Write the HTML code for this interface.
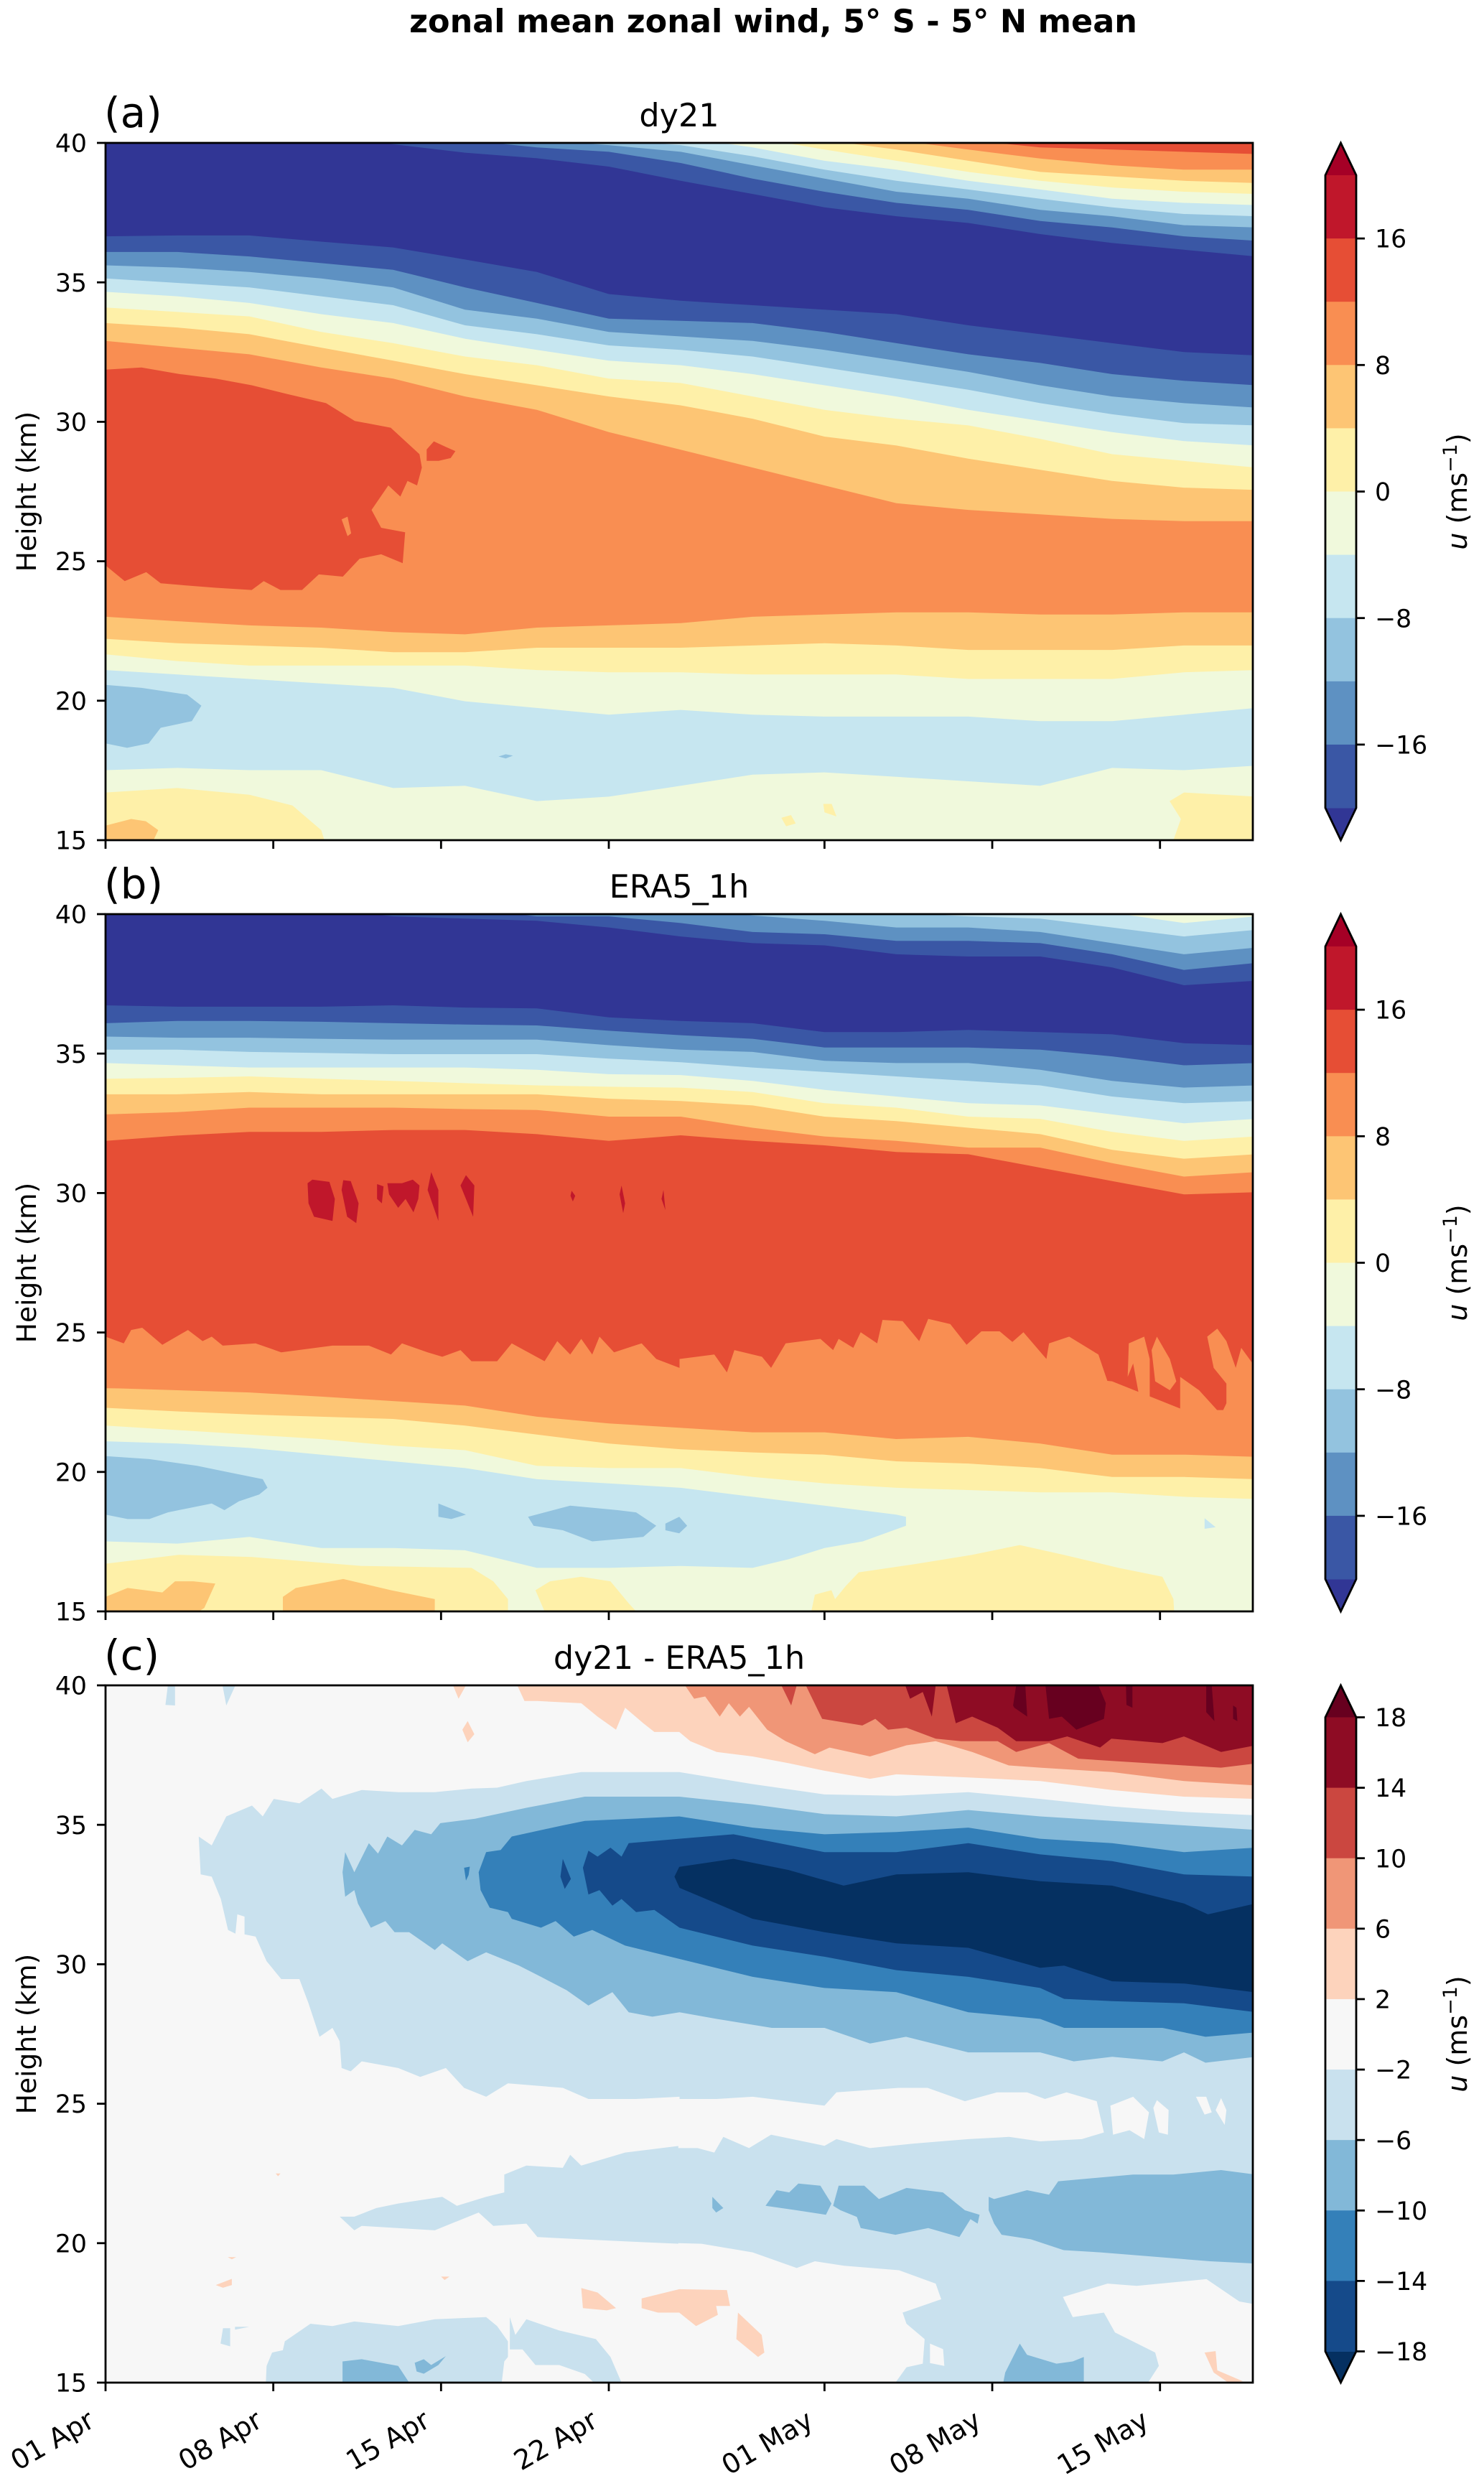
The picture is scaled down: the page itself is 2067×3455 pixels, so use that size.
<!DOCTYPE html>
<html lang="en">
<head>
<meta charset="utf-8">
<title>zonal mean zonal wind, 5° S - 5° N mean</title>
<style>
html,body{margin:0;padding:0;background:#fff;}
svg{display:block;}
text{font-family:"DejaVu Sans","Liberation Sans",sans-serif;fill:#000;}
</style>
</head>
<body>
<svg id="figure" xmlns="http://www.w3.org/2000/svg" width="2067" height="3455" viewBox="0 0 2067 3455">
<defs>
<clipPath id="clip-a"><rect x="147" y="199" width="1598" height="971"/></clipPath>
<clipPath id="clip-b"><rect x="147" y="1273" width="1598" height="971"/></clipPath>
<clipPath id="clip-c"><rect x="147" y="2347" width="1598" height="971"/></clipPath>
</defs>
<text x="1077" y="45" text-anchor="middle" font-size="44.5" font-weight="bold">zonal mean zonal wind, 5° S - 5° N mean</text>
<text x="145" y="177" font-size="58">(a)</text>
<text x="946" y="176" text-anchor="middle" font-size="44.5">dy21</text>
<text x="145" y="1251" font-size="58">(b)</text>
<text x="946" y="1250" text-anchor="middle" font-size="44.5">ERA5_1h</text>
<text x="145" y="2325" font-size="58">(c)</text>
<text x="946" y="2324" text-anchor="middle" font-size="44.5">dy21 - ERA5_1h</text>
<text transform="translate(50 684.5) rotate(-90)" text-anchor="middle" font-size="37.5">Height (km)</text>
<text transform="translate(50 1758.5) rotate(-90)" text-anchor="middle" font-size="37.5">Height (km)</text>
<text transform="translate(50 2832.5) rotate(-90)" text-anchor="middle" font-size="37.5">Height (km)</text>
<text transform="translate(2043 684.5) rotate(-90)" text-anchor="middle" font-size="38"><tspan font-style="italic">u</tspan> (ms<tspan dy="-14" font-size="27">−1</tspan><tspan dy="14">)</tspan></text>
<text transform="translate(2043 1758.5) rotate(-90)" text-anchor="middle" font-size="38"><tspan font-style="italic">u</tspan> (ms<tspan dy="-14" font-size="27">−1</tspan><tspan dy="14">)</tspan></text>
<text transform="translate(2043 2832.5) rotate(-90)" text-anchor="middle" font-size="38"><tspan font-style="italic">u</tspan> (ms<tspan dy="-14" font-size="27">−1</tspan><tspan dy="14">)</tspan></text>
</svg>
<script>
// ---------- axis and colour-scale values ----------
const xTickDays = [0, 7, 14, 21, 30, 37, 44];
const xTickLabels = ["01 Apr", "08 Apr", "15 Apr", "22 Apr", "01 May", "08 May", "15 May"];
const yTicks = [15, 20, 25, 30, 35, 40];
const windLevels = [20, 16, 12, 8, 4, 0, -4, -8, -12, -16, -20];
const windTicks = [16, 8, 0, -8, -16];
const diffLevels = [18, 14, 10, 6, 2, -2, -6, -10, -14, -18];
const diffTicks = [18, 14, 10, 6, 2, -2, -6, -10, -14, -18];
const windColors = ["#a50026", "#c0172b", "#e64e35", "#f98e52", "#fdc574", "#fef0a8", "#f0f9dc", "#c6e6f0", "#93c3df", "#5e91c2", "#3a57a5", "#313695"];
const diffColors = ["#67001f", "#8e0c24", "#cb4740", "#f09677", "#fdd3bc", "#f7f7f7", "#c9e1ee", "#82b8d8", "#3480b9", "#154a8a", "#053061"];

// Sample days for contour edges (days since 01 Apr)
const edgeDays = [0, 3, 6, 9, 12, 15, 18, 21, 24, 27, 30, 33, 36, 39, 42, 45, 48];

// ---------- panel (a) dy21: contour edge heights (km) ----------
const a_above8 = [43,43,43,43,43,43,43,43,43,42,41.5,40.8,40.1,39.84,39.76,39.68,39.6];
const a_above4 = [43,43,43,43,43,43,43,43,42,41.4,40.8,40.1,39.76,39.44,39.2,39.04,39.04];
const a_above0 = [43,43,43,43,43,43,43,42,41.2,40.7,40.1,39.76,39.36,38.96,38.8,38.64,38.56];
const a_aboveM4 = [43,43,43,43,43,43,42,41.4,40.8,40.2,39.76,39.36,38.96,38.64,38.4,38.25,38.17];
const a_aboveM8 = [43,43,43,43,42,42,41.2,40.6,40.2,39.84,39.36,39.04,38.64,38.33,38,37.85,37.77];
const a_aboveM12 = [43,43,43,43,42,41,40.5,40.1,39.92,39.52,39.04,38.64,38.33,38,37.69,37.45,37.37];
const a_aboveM16 = [43,43,43,42,41,40.5,40.1,39.92,39.68,39.2,38.72,38.25,38,37.6,37.37,37.05,36.97];
const a_aboveM20 = [42,42,42,41,40.4,40.1,39.84,39.68,39.28,38.72,38.25,37.85,37.6,37.2,36.97,36.65,36.49];
const a_jetTop = [41,41,40.6,40.3,39.95,39.65,39.45,39.15,38.64,38.17,37.69,37.37,37.13,36.73,36.41,36.17,35.93];
const a_jetBase = [36.65,36.68,36.68,36.46,36.25,35.82,35.37,34.58,34.34,34.18,34.02,33.86,33.46,33.14,32.82,32.5,32.38];
const a_belowM16 = [36.09,36.09,35.93,35.69,35.45,34.82,34.26,33.7,33.62,33.54,33.22,32.82,32.42,32.11,31.71,31.47,31.31];
const a_belowM12 = [35.61,35.53,35.37,35.14,34.82,34.02,33.7,33.22,33.06,32.9,32.58,32.19,31.79,31.31,30.91,30.67,30.51];
const a_belowM8 = [35.14,34.98,34.82,34.5,34.18,33.46,33.14,32.74,32.58,32.34,31.95,31.55,31.15,30.67,30.27,29.95,29.87];
const a_belowM4 = [34.66,34.5,34.26,33.86,33.54,32.98,32.58,32.19,32.03,31.71,31.31,30.91,30.43,30.03,29.63,29.31,29.15];
const a_below0 = [34.1,33.94,33.78,33.22,32.82,32.34,32.03,31.55,31.39,30.91,30.43,30.11,29.87,29.39,28.84,28.6,28.36];
const a_below4 = [33.54,33.38,33.14,32.66,32.19,31.71,31.31,30.91,30.59,30.11,29.47,29.15,28.68,28.28,27.88,27.64,27.56];
const a_below8 = [32.9,32.66,32.42,31.95,31.55,30.91,30.43,29.63,29,28.36,27.72,27.08,26.84,26.68,26.52,26.44,26.44];
const a_lower4 = [23.01,22.85,22.7,22.62,22.46,22.38,22.62,22.7,22.78,23.01,23.09,23.17,23.17,23.09,23.09,23.17,23.17];
const a_lower0 = [22.22,22.06,21.98,21.9,21.74,21.74,21.9,21.9,21.9,21.98,22.06,21.98,21.82,21.82,21.82,21.98,21.98];
const a_lowerM4 = [21.66,21.42,21.26,21.26,21.26,21.26,21.1,21.02,21.02,20.94,20.94,20.94,20.78,20.78,20.78,21.02,21.1];
const a_lowerM8 = [21.1,20.94,20.78,20.62,20.46,19.98,19.74,19.5,19.67,19.5,19.43,19.43,19.43,19.27,19.27,19.5,19.74];
const a_tropM4 = [17.51,17.59,17.51,17.51,16.87,16.95,16.4,16.56,16.95,17.35,17.43,17.27,17.11,16.95,17.59,17.51,17.67];
const a_edges = [[8,a_above8],[4,a_above4],[0,a_above0],[-4,a_aboveM4],[-8,a_aboveM8],[-12,a_aboveM12],[-16,a_aboveM16],[-20,a_aboveM20],[-24,a_jetTop],[-20,a_jetBase],[-16,a_belowM16],[-12,a_belowM12],[-8,a_belowM8],[-4,a_belowM4],[0,a_below0],[4,a_below4],[8,a_below8],[4,a_lower4],[0,a_lower0],[-4,a_lowerM4],[-8,a_lowerM8],[-4,a_tropM4]];

// panel (a) closed contour regions as [day, km]
const a_westerlyCore = [[0,31.87],[1.5,31.95],[3.1,31.71],[4.6,31.55],[6.1,31.31],[7.6,30.99],[9.2,30.67],[10.4,30.03],[11.9,29.79],[13.1,28.84],[13.2,28.36],[13,27.72],[12.6,27.88],[12.3,27.32],[11.8,27.72],[11.1,26.84],[11.5,26.2],[12.5,26.04],[12.4,24.93],[11.5,25.25],[10.6,25.09],[9.9,24.45],[8.9,24.53],[8.2,23.97],[7.3,23.97],[6.6,24.29],[6.1,23.97],[4.6,24.05],[3.4,24.13],[2.3,24.21],[1.7,24.61],[0.8,24.29],[0,24.85]];
const a_coreIsle = [[13.4,29.01],[13.7,29.3],[14.2,29.1],[14.6,28.95],[14.4,28.7],[13.9,28.6],[13.4,28.6]];
const a_coreHole = [[9.85,26.5],[10.1,26.6],[10.25,26],[10.1,25.9]];
const a_easterlyPatch = [[0,20.57],[1.5,20.46],[3.4,20.22],[4,19.82],[3.6,19.27],[2.3,19.03],[1.8,18.47],[0.9,18.31],[0,18.47]];
const a_easterlySpeck = [[16.4,18],[16.7,18.08],[17,18.03],[16.7,17.93]];
const a_lowYellowWest = [[0,16.71],[3,16.87],[6,16.63],[7.8,16.24],[9,15.36],[9.13,15],[0,15]];
const a_lowOrangeWest = [[0,15.52],[1.07,15.76],[1.68,15.68],[2.2,15.36],[2,15],[0,15]];
const a_lowYellowEast = [[44.4,16.4],[45,16.71],[48,16.56],[48,15],[44.56,15],[44.87,15.76]];
const a_yellowSpeck1 = [[28.2,15.8],[28.6,15.9],[28.8,15.6],[28.4,15.5]];
const a_yellowSpeck2 = [[29.95,16.3],[30.3,16.3],[30.5,15.85],[30,16]];
const a_regions = [[12,a_westerlyCore],[12,a_coreIsle],[8,a_coreHole],[-12,a_easterlyPatch],[-12,a_easterlySpeck],[0,a_lowYellowWest],[4,a_lowOrangeWest],[0,a_lowYellowEast],[0,a_yellowSpeck1],[0,a_yellowSpeck2]];

// ---------- panel (b) ERA5_1h: contour edge heights (km) ----------
const b_aboveM8 = [43,43,43,43,43,43,43,43,43,43,43,41.5,40.8,40.15,40.05,39.68,39.92];
const b_aboveM12 = [43,43,43,43,43,43,43,42,41.3,40.8,40.3,40.05,39.92,39.84,39.52,39.2,39.44];
const b_aboveM16 = [43,43,43,43,43,43,42,40.6,40.2,39.95,39.76,39.52,39.52,39.36,38.96,38.56,38.8];
const b_aboveM20 = [43,43,43,42,40.6,40.2,39.92,39.92,39.68,39.36,39.28,39.04,39.04,38.96,38.56,38,38.25];
const b_jetTop = [40.6,40.5,40.4,40.2,39.92,39.84,39.76,39.52,39.2,38.96,38.88,38.56,38.48,38.48,38.09,37.45,37.61];
const b_jetBase = [36.73,36.68,36.68,36.68,36.73,36.65,36.62,36.3,36.17,36.09,35.77,35.77,35.85,35.77,35.69,35.37,35.3];
const b_belowM16 = [36.09,36.17,36.17,36.14,36.09,36.04,36.01,35.82,35.66,35.53,35.22,35.22,35.22,35.14,34.9,34.58,34.66];
const b_belowM12 = [35.61,35.57,35.57,35.53,35.5,35.5,35.5,35.3,35.14,35.06,34.74,34.66,34.66,34.42,34.02,33.78,33.86];
const b_belowM8 = [35.14,35.14,35.06,35.02,34.98,34.98,34.98,34.82,34.69,34.5,34.34,34.18,34.02,33.86,33.46,33.22,33.3];
const b_belowM4 = [34.66,34.58,34.5,34.5,34.5,34.5,34.42,34.26,34.23,34.02,33.7,33.46,33.22,33.14,32.82,32.5,32.66];
const b_below0 = [34.1,34.13,34.18,34.1,34.02,33.94,33.86,33.81,33.78,33.62,33.22,33.06,32.74,32.66,32.19,31.87,32.03];
const b_below4 = [33.54,33.54,33.62,33.54,33.54,33.54,33.54,33.38,33.3,33.14,32.74,32.58,32.34,32.11,31.55,31.23,31.39];
const b_below8 = [32.82,32.9,33.06,33.06,33.06,33.01,32.98,32.74,32.74,32.34,32.03,31.87,31.63,31.63,31.07,30.59,30.75];
const b_below12 = [31.87,32.06,32.19,32.19,32.26,32.26,32.11,31.87,32.07,31.87,31.71,31.47,31.39,30.91,30.43,29.95,30.03];
const b_lower8 = [23.5,23.5,23.5,23.5,23.5,23.5,23.5,23.5,23.5,23.5,23.5,23.5,23.5,23.5,23.25,22.22,22.22];
const b_lower4 = [23.01,22.93,22.85,22.7,22.54,22.38,21.98,21.74,21.58,21.42,21.42,21.18,21.26,21.02,20.62,20.62,20.54];
const b_lower0 = [22.3,22.17,22.06,21.98,21.9,21.66,21.34,21.02,20.81,20.7,20.62,20.38,20.3,20.14,19.82,19.82,19.74];
const b_lowerM4 = [21.66,21.5,21.34,21.18,20.94,20.78,20.22,20.14,20.14,19.82,19.59,19.43,19.35,19.27,19.27,19.11,19.03];
const b_edges = [[-8,b_aboveM8],[-12,b_aboveM12],[-16,b_aboveM16],[-20,b_aboveM20],[-24,b_jetTop],[-20,b_jetBase],[-16,b_belowM16],[-12,b_belowM12],[-8,b_belowM8],[-4,b_belowM4],[0,b_below0],[4,b_below4],[8,b_below8],[12,b_below12],[8,b_lower8],[4,b_lower4],[0,b_lower0],[-4,b_lowerM4]];

// panel (b) closed contour regions as [day, km]
const b_spikesWest = [[0,24.85],[0.76,24.61],[1.07,25.09],[1.53,25.17],[2.37,24.56],[3.44,25.09],[4.05,24.69],[4.43,24.85],[4.89,24.53],[6.26,24.61],[7.33,24.29],[9.47,24.53],[10.99,24.53],[11.91,24.21],[12.37,24.61],[13.44,24.29],[14.05,24.13],[14.81,24.37],[15.27,23.97],[16.34,23.97],[16.95,24.61],[18.32,23.97],[18.85,24.69],[19.39,24.21],[19.85,24.77],[20.31,24.21],[20.61,24.85],[21.22,24.29],[22.37,24.61],[22.98,24.05],[23.95,23.73],[23.95,23],[0,23]];
const b_spikesEast = [[23.95,24.05],[25.4,24.21],[25.93,23.57],[26.24,24.37],[27.39,24.13],[27.77,23.73],[28.38,24.61],[29.83,24.77],[30.36,24.37],[30.59,24.77],[31.2,24.45],[31.51,25.01],[32.2,24.61],[32.42,25.45],[33.26,25.41],[33.95,24.69],[34.33,25.49],[35.25,25.3],[35.93,24.56],[36.55,25.04],[37.31,25.04],[37.84,24.66],[38.3,25.01],[39.26,24.05],[39.37,24.61],[40.21,24.85],[41.43,24.21],[41.81,23.25],[42.73,22.3],[42.73,22],[23.95,23]];
const b_finger1 = [[42.65,23.41],[42.7,24.61],[43.34,24.85],[43.57,24.05],[43.57,22.46],[43.22,22.3],[42.88,23.89]];
const b_finger2 = [[43.65,24.37],[43.87,24.85],[44.41,24.05],[44.68,23.25],[44.41,22.93],[43.8,23.25]];
const b_finger3 = [[44.84,23.41],[45.63,22.93],[46.55,22.06],[46.77,22.46],[46.77,23.17],[46.24,23.73],[45.97,24.85],[46.39,25.14],[46.77,24.69],[47.16,23.73],[47.39,24.45],[48,23.73],[48,21.98],[44.84,21.98]];
const b_core1 = [[8.43,30.35],[8.63,30.48],[9.34,30.4],[9.57,29.79],[9.47,29],[8.7,29.15],[8.47,29.63]];
const b_core2 = [[9.92,30.46],[10.23,30.43],[10.56,29.63],[10.46,28.92],[10.08,29.15],[9.85,30.11]];
const b_core3 = [[11.33,30.32],[11.6,30.24],[11.53,29.63],[11.33,29.79]];
const b_core4 = [[11.76,30.35],[12.37,30.35],[12.82,30.48],[13.1,30.27],[13.05,29.79],[12.85,29.31],[12.52,29.79],[12.21,29.47],[11.83,29.95]];
const b_core5 = [[13.59,30.75],[13.89,30.11],[13.89,29],[13.44,30.11]];
const b_core6 = [[15.04,30.64],[15.39,30.27],[15.34,29.15],[14.81,30.27]];
const b_core7 = [[19.45,30.08],[19.6,29.9],[19.5,29.7],[19.4,29.9]];
const b_core8 = [[21.53,30.27],[21.68,29.63],[21.6,29.28],[21.45,29.95]];
const b_core9 = [[23.28,30.11],[23.36,29.39],[23.2,29.79]];
const b_eastBand = [[0,21.1],[3,21.02],[6,20.86],[9,20.62],[12,20.38],[15,20.14],[18,19.74],[21,19.59],[24,19.43],[27,19.11],[30,18.79],[33,18.47],[33.4,18.39],[33.4,18.07],[31.6,17.51],[30,17.27],[28.5,16.87],[27,16.56],[24,16.63],[21,16.56],[18,16.56],[15,17.19],[12,17.27],[9,17.27],[6,17.67],[3,17.43],[0,17.51]];
const b_eastPatch1 = [[0,20.57],[1.83,20.46],[3.82,20.22],[5.19,19.98],[6.56,19.74],[6.76,19.43],[6.41,19.19],[5.57,18.95],[4.96,18.63],[4.43,18.87],[2.6,18.55],[1.83,18.31],[0.92,18.31],[0,18.47]];
const b_eastPatch2 = [[17.63,18.39],[19.39,18.79],[21.37,18.63],[22.14,18.55],[22.98,18.07],[22.44,17.67],[20.31,17.51],[19.08,17.91],[17.86,18.07]];
const b_eastPatch3 = [[13.89,18.87],[14.35,18.71],[15.04,18.47],[14.43,18.31],[13.89,18.39]];
const b_eastPatch4 = [[23.36,18.15],[23.94,18.39],[24.27,18.07],[23.94,17.8],[23.36,17.91]];
const b_eastSpeck = [[45.86,18.34],[46.32,18.02],[45.86,17.96]];
const b_yellow1 = [[0,16.71],[3.05,17.03],[6.11,16.95],[10.69,16.63],[15.27,16.56],[16.18,16.08],[16.79,15.44],[16.79,15],[0,15]];
const b_yellow2 = [[17.94,15.76],[18.55,16.08],[19.85,16.24],[21.07,16.08],[21.83,15.29],[22.14,15],[18.32,15]];
const b_yellow3 = [[29.45,15],[29.6,15.6],[30.29,15.76],[30.44,15.44],[30.9,15.92],[31.43,16.4],[33.87,16.71],[36.16,17.03],[38.15,17.38],[39.98,17.03],[42.27,16.56],[44.1,16.24],[44.56,15.44],[44.59,15]];
const b_orange1 = [[0,15.52],[0.92,15.84],[2.37,15.68],[2.9,16.08],[3.66,16.08],[4.58,16],[4.12,15.12],[3.89,15],[0,15]];
const b_orange2 = [[7.4,15],[7.4,15.52],[7.94,15.84],[9.92,16.16],[11.91,15.76],[13.74,15.44],[13.74,15]];
const b_regions = [[8,b_spikesWest],[8,b_spikesEast],[8,b_finger1],[8,b_finger2],[8,b_finger3],[16,b_core1],[16,b_core2],[16,b_core3],[16,b_core4],[16,b_core5],[16,b_core6],[16,b_core7],[16,b_core8],[16,b_core9],[-8,b_eastBand],[-12,b_eastPatch1],[-12,b_eastPatch2],[-12,b_eastPatch3],[-12,b_eastPatch4],[-8,b_eastSpeck],[0,b_yellow1],[0,b_yellow2],[0,b_yellow3],[4,b_orange1],[4,b_orange2]];

// ---------- panel (c) dy21 - ERA5_1h: closed contour regions as [day, km] ----------
const c_minus2Main = [[3.89,34.58],[4.43,34.26],[5.04,35.3],[6.11,35.69],[6.56,35.3],[7.02,35.93],[8.09,35.77],[9.01,36.3],[9.47,35.93],[10.69,36.25],[12.21,36.17],[13.74,36.17],[15.27,36.3],[16.34,36.33],[17.56,36.57],[19.85,36.89],[23.94,36.89],[27,36.46],[30,36.09],[33,36.04],[36,36.17],[39,35.93],[42,35.66],[45,35.46],[48,35.34],[48,15],[23.95,15],[23.95,25.25],[22.14,25.17],[20.15,25.17],[19.08,25.57],[16.79,25.73],[15.88,25.25],[14.96,25.57],[14.2,26.28],[13.13,25.96],[12.21,26.28],[10.69,26.52],[10.23,26.16],[9.85,26.28],[9.77,27.24],[9.47,27.72],[8.93,27.4],[8.47,28.6],[8.09,29.47],[7.33,29.47],[6.72,30.11],[6.26,30.99],[5.8,31.07],[5.8,31.71],[5.5,31.79],[5.42,31.1],[5.11,31.23],[4.81,32.34],[4.43,33.14],[3.97,33.22]];
const c_lowBand = [[9.77,20.95],[10.38,20.95],[11.3,21.26],[12.21,21.42],[14.05,21.66],[14.66,21.34],[15.88,21.66],[16.64,21.82],[16.64,22.46],[17.56,22.78],[19.08,22.7],[19.39,23.17],[19.85,22.78],[21.68,23.25],[23.95,23.49],[23.95,19.98],[21.83,20.06],[19.85,20.14],[18.02,20.22],[17.56,20.7],[16.18,20.62],[15.57,21.1],[13.74,20.46],[10.69,20.62],[10.38,20.46]];
const c_bottomWest = [[6.69,15],[6.72,15.6],[6.95,16.08],[7.4,16.16],[7.48,16.48],[8.55,17.11],[9.47,17.03],[10.38,17.19],[12.21,17.03],[13.74,17.27],[15.88,17.35],[16.34,17.03],[16.79,16.48],[16.79,15.92],[16.64,15.76],[16.53,15]];
const c_bottomEast = [[16.87,16.19],[16.87,17.35],[17.1,16.71],[17.56,17.27],[18.93,16.87],[20.46,16.56],[21.07,15.92],[21.53,15],[20.38,15],[20,15.31],[18.93,15.63],[17.94,15.63],[17.4,16.19]];
const c_bottomCore1 = [[9.89,15.76],[10.69,15.84],[12.21,15.6],[12.67,15],[9.89,15]];
const c_bottomCore2 = [[12.9,15.71],[13.28,15.84],[13.59,15.63],[14.2,15.95],[13.89,15.63],[13.28,15.32],[12.98,15.4]];
const c_whiteBand = [[23.9,25.17],[25.5,25.17],[27,25.25],[30,24.93],[30.5,25.41],[33.1,25.57],[34.3,25.57],[35.86,25.09],[37.2,25.41],[38.45,25.41],[39.2,25.17],[40.1,25.41],[41.36,25.09],[41.66,23.97],[40.74,23.73],[39,23.65],[37.7,23.81],[36,23.73],[33.72,23.57],[31.9,23.41],[30.5,23.73],[30,23.49],[27.77,23.89],[26.85,23.41],[25.78,23.81],[25.4,23.25],[24.7,23.41],[23.9,23.41]];
const c_whiteHole1 = [[41.93,24.93],[42.88,25.25],[43.54,24.69],[43.34,23.73],[42.73,24.05],[42.04,23.89]];
const c_whiteHole2 = [[43.72,24.85],[43.87,25.13],[44.36,24.77],[44.33,23.89],[43.95,23.97]];
const c_whiteHole3 = [[45.5,25.25],[45.93,25.25],[46.16,24.69],[45.86,24.61]];
const c_whiteHole4 = [[46.32,24.77],[46.55,25.2],[46.77,24.77],[46.7,24.24]];
const c_whiteLowWest = [[23.9,20],[24.87,19.98],[27,19.67],[28.84,19.11],[29.6,19.35],[30.82,19.19],[33.11,19.03],[34.64,18.55],[34.87,17.99],[33.26,17.51],[33.42,17.11],[34.18,16.56],[34.1,15.68],[33.42,15.55],[32.96,15],[23.9,15]];
const c_whiteLowPatch = [[34.4,16.4],[34.95,16.2],[35,15.6],[34.4,15.7]];
const c_whiteLowEast = [[39.95,18.07],[41.81,18.55],[43.03,18.47],[45.94,18.71],[47.31,17.91],[48,17.8],[48,15],[43.5,15],[43.95,15.6],[43.8,16.08],[42.12,16.8],[41.66,17.51],[40.36,17.35]];
const c_minus6Main = [[10,34.02],[10.38,33.3],[10.99,34.34],[11.37,33.97],[11.76,34.58],[12.37,34.26],[12.9,34.82],[13.59,34.66],[13.97,35.06],[15.42,35.22],[17.56,35.61],[20,36.01],[23.94,36.01],[27,35.73],[30,35.38],[33,35.3],[36,35.53],[39,35.3],[42,35.14],[45,34.98],[48,34.82],[48,26.68],[45.9,26.47],[45,26.84],[44.1,26.52],[42,26.68],[40.4,26.52],[39,26.84],[36,26.84],[33.4,27.4],[31.9,27.16],[30,27.72],[27.8,27.72],[25.5,28.04],[23.95,28.28],[22.82,28.12],[21.83,28.28],[21.15,29],[20.15,28.52],[19.24,29.07],[18.17,29.55],[17.25,29.95],[15.88,30.43],[15.11,30.11],[14.05,30.75],[13.74,30.51],[12.67,31.15],[12.06,31.15],[11.68,31.55],[11.07,31.31],[10.53,32.18],[10.38,32.66],[10,32.42],[9.89,33.3]];
const c_minus6Low1 = [[27.54,21.34],[28,21.9],[28.53,21.82],[28.91,22.14],[29.83,22.06],[30.29,21.42],[30.06,21.02],[28.84,21.18]];
const c_minus6Low2 = [[30.36,21.34],[30.59,22.06],[31.66,22.06],[32.27,21.58],[33.42,21.98],[34.94,21.82],[35.86,21.18],[36.47,21.02],[36.39,20.7],[36.09,20.86],[35.63,20.22],[34.33,20.54],[32.96,20.3],[31.51,20.54],[31.35,20.94],[30.67,21.18]];
const c_minus6Low3 = [[36.85,21.66],[37.08,21.58],[38.45,21.9],[39.37,21.74],[39.75,22.22],[42.88,22.46],[44.56,22.46],[46.55,22.62],[48,22.46],[48,19.27],[46.09,19.35],[43.8,19.51],[41.51,19.67],[39.98,19.75],[38.61,20.14],[37.39,20.3],[37.08,20.7],[36.85,21.18]];
const c_minus6Low4 = [[25.32,21.66],[25.78,21.26],[25.48,21.1],[25.32,21.26]];
const c_minus6Bottom = [[37.46,15],[37.54,15.36],[38.15,16.4],[38.45,16],[39.68,15.68],[40.36,15.76],[40.82,15.92],[40.82,15]];
const c_minus10Main = [[15.57,33.3],[15.88,34.02],[16.49,34.1],[16.95,34.58],[19.08,34.98],[20,35.14],[23.94,35.3],[27,34.9],[30,34.66],[33,34.74],[36,34.9],[39,34.5],[42,34.34],[45,34.02],[48,34.18],[48,27.56],[45.9,27.4],[44.1,27.72],[42,27.72],[40,27.72],[39,28.04],[36,28.28],[33,29],[30,29.15],[27,29.55],[23.95,30.19],[22.82,30.43],[21.68,30.67],[20.31,31.23],[19.54,30.99],[18.78,31.55],[18.17,31.31],[16.95,31.63],[16.79,31.87],[16.03,32.03],[15.65,32.66]];
const c_minus10Speck = [[14.96,33.46],[15.2,33.5],[15.15,33.2],[15.04,33]];
const c_minus14Main = [[19.92,33.46],[20.15,34.07],[20.53,33.86],[21.07,34.18],[21.53,33.86],[21.83,34.34],[23.94,34.5],[26.2,34.66],[30,34.02],[33,34.02],[36,34.34],[39,33.94],[42,33.7],[45,33.22],[48,33.14],[48,28.28],[45,28.6],[42,28.68],[40,28.76],[39,29.15],[36,29.55],[33,29.79],[30,30.27],[27,30.67],[23.95,31.31],[22.9,31.95],[22.14,31.87],[21.53,32.34],[21.15,32.1],[20.61,32.66],[20.15,32.5]];
const c_minus14Isle = [[19.08,33.78],[19.42,33.06],[19.16,32.7],[18.98,33.14]];
const c_minus18Main = [[23.74,33.14],[23.94,33.49],[26.2,33.78],[28.5,33.38],[30.8,32.82],[33,33.22],[36,33.3],[39,32.98],[42,32.82],[45,32.18],[46,31.79],[48,32.18],[48,28.99],[45,29.31],[42,29.39],[40,29.95],[39,29.87],[36,30.59],[33,30.75],[30,31.15],[27,31.63],[25.5,32.18],[23.95,32.74]];
const c_plus2Top = [[17.18,40],[17.48,39.44],[18.02,39.44],[19.85,39.36],[20.53,38.88],[21.3,38.41],[21.68,39.2],[22.44,38.64],[22.9,38.33],[23.94,38.33],[24.4,38],[25.5,37.61],[27,37.45],[28.5,37.21],[30,36.94],[31.9,36.65],[33,36.81],[36,36.7],[39,36.57],[42,36.25],[45,36.01],[48,35.93],[48,40]];
const c_plus2Sliver = [[14.5,40],[15.04,40],[14.73,39.52]];
const c_plus2Isle = [[15.11,38.72],[15.39,38.25],[15.11,37.96],[14.89,38.41]];
const c_plus6Top = [[24.18,40],[24.56,39.52],[25.02,39.6],[25.63,38.88],[26.01,39.36],[26.47,38.88],[26.85,39.23],[27.61,38.41],[28.38,38],[29.6,37.53],[30.21,37.77],[31.9,37.45],[33.42,37.85],[34.64,38],[36.16,37.61],[37.69,37.13],[39,37.05],[42,36.89],[45,36.57],[48,36.41],[48,40]];
const c_plus10Top = [[28.2,40],[28.61,39.28],[28.84,40],[29.22,40],[29.9,38.8],[31.58,38.56],[32.12,38.8],[32.65,38.41],[33.42,38.48],[34.64,38.09],[35.7,38],[37.23,38],[38,37.61],[39.37,37.93],[40.59,37.37],[42,37.29],[45,37.13],[46.55,37.05],[48,37.2],[48,40]];
const c_plus14Top = [[33.37,40],[33.57,39.52],[34.1,39.76],[34.48,38.88],[34.64,40],[35.1,40],[35.48,38.64],[36.16,38.88],[37.23,38.48],[38,38],[39.37,38],[40.13,38.17],[41.5,37.77],[41.97,38.09],[44.1,37.93],[45,38.17],[46.55,37.61],[48,37.85],[48,40]];
const c_plus18Core1 = [[39.22,40],[39.37,38.8],[39.9,38.88],[40.51,38.41],[41.66,38.8],[41.74,39.36],[41.43,40]];
const c_plus18Core2 = [[37.87,39.28],[38,40],[38.38,40],[38.46,38.88],[37.92,39.2]];
const c_plus18Core3 = [[42.58,40],[42.85,40],[42.85,39.2],[42.6,39.3]];
const c_plus18Core4 = [[45.93,40],[46.16,40],[46.27,38.72],[45.93,39.04]];
const c_plus18Core5 = [[47.05,39.28],[47.19,39.2],[47.23,38.72],[47.05,38.8]];
const c_plus2Low1 = [[19.85,18.39],[20.53,18.23],[21.3,17.67],[20.92,17.59],[19.92,17.67]];
const c_plus2Low2 = [[22.37,18.02],[23.94,18.35],[25.93,18.32],[26.06,17.75],[25.48,17.75],[25.55,17.43],[24.64,17.03],[23.94,17.51],[23.05,17.51],[22.37,17.67]];
const c_plus2Low3 = [[26.39,17.51],[27.38,16.71],[27.49,16.08],[27.23,15.92],[26.32,16.56]];
const c_plus2Low4 = [[45.86,16.08],[46.32,16.13],[46.39,15.44],[47.46,15.05],[46.85,15],[46.24,15.36]];
const c_plus2Speck1 = [[4.6,18.5],[5.27,18.72],[5.27,18.5],[4.9,18.4]];
const c_plus2Speck2 = [[5.1,19.5],[5.45,19.5],[5.27,19.42]];
const c_plus2Speck3 = [[14,18.8],[14.35,18.8],[14.15,18.68]];
const c_plus2Speck4 = [[7.1,22.5],[7.3,22.5],[7.2,22.4]];
const c_minus2Top1 = [[2.6,40],[2.9,40],[2.9,39.28],[2.5,39.3]];
const c_minus2Top2 = [[4.88,40],[5.42,40],[5.04,39.28]];
const c_minus2Low1 = [[4.9,16.95],[5.2,16.95],[5.2,16.3],[4.8,16.4]];
const c_minus2Low2 = [[5.4,17],[6,17],[5.4,16.9]];
const c_regions = [[-6,c_minus2Main],[-6,c_lowBand],[-6,c_bottomWest],[-6,c_bottomEast],[-10,c_bottomCore1],[-10,c_bottomCore2],[-2,c_whiteBand],[-2,c_whiteHole1],[-2,c_whiteHole2],[-2,c_whiteHole3],[-2,c_whiteHole4],[-2,c_whiteLowWest],[-2,c_whiteLowPatch],[-2,c_whiteLowEast],[-10,c_minus6Main],[-10,c_minus6Low1],[-10,c_minus6Low2],[-10,c_minus6Low3],[-10,c_minus6Low4],[-10,c_minus6Bottom],[-14,c_minus10Main],[-14,c_minus10Speck],[-18,c_minus14Main],[-18,c_minus14Isle],[-22,c_minus18Main],[2,c_plus2Top],[2,c_plus2Sliver],[2,c_plus2Isle],[6,c_plus6Top],[10,c_plus10Top],[14,c_plus14Top],[18,c_plus18Core1],[18,c_plus18Core2],[18,c_plus18Core3],[18,c_plus18Core4],[18,c_plus18Core5],[2,c_plus2Low1],[2,c_plus2Low2],[2,c_plus2Low3],[2,c_plus2Low4],[2,c_plus2Speck1],[2,c_plus2Speck2],[2,c_plus2Speck3],[2,c_plus2Speck4],[-6,c_minus2Top1],[-6,c_minus2Top2],[-6,c_minus2Low1],[-6,c_minus2Low2]];

// ---------- drawing ----------
const NS = "http://www.w3.org/2000/svg";
const fig = document.getElementById("figure");
const X0 = 147, PX_PER_DAY = 33.38, PX_PER_KM = 38.84, X1 = 1745;
function xOf(day) { return X0 + day * PX_PER_DAY; }
function yOf(km, top) { return top + (40 - km) * PX_PER_KM; }
function make(tag) { return document.createElementNS(NS, tag); }
function fmt(v) { return v < 0 ? "\u2212" + Math.abs(v) : String(v); }
function bandColor(lowerBound, levels, colors) {
  for (let i = 0; i < levels.length; i++) { if (lowerBound >= levels[i]) return colors[i]; }
  return colors[colors.length - 1];
}

function drawPanel(key, top, background, edges, regions, levels, colors, cbTop, cbBottom, cbTicks, tickLabelsShown) {
  const bottom = top + 971;
  const group = make("g");
  
  
  fig.appendChild(group);

  const plot = make("g");
  plot.setAttribute("clip-path", "url(#clip-" + key + ")");
  
  
  group.appendChild(plot);

  const bg = make("rect");
  bg.setAttribute("x", X0);
  bg.setAttribute("y", top);
  bg.setAttribute("width", X1 - X0);
  bg.setAttribute("height", 971);
  bg.setAttribute("fill", background);
  
  
  plot.appendChild(bg);

  edges.forEach(function (edge) {
    const pts = edge[1].map(function (km, i) { return xOf(edgeDays[i]).toFixed(1) + "," + yOf(km, top).toFixed(1); });
    pts.push(xOf(48).toFixed(1) + "," + yOf(14, top).toFixed(1));
    pts.push(xOf(0).toFixed(1) + "," + yOf(14, top).toFixed(1));
    const poly = make("polygon");
    poly.setAttribute("points", pts.join(" "));
    poly.setAttribute("fill", bandColor(edge[0], levels, colors));
    
    
    plot.appendChild(poly);
  });

  regions.forEach(function (region) {
    const pts = region[1].map(function (p) { return xOf(p[0]).toFixed(1) + "," + yOf(p[1], top).toFixed(1); });
    const poly = make("polygon");
    poly.setAttribute("points", pts.join(" "));
    poly.setAttribute("fill", bandColor(region[0], levels, colors));
    
    
    plot.appendChild(poly);
  });

  const frame = make("rect");
  frame.setAttribute("x", X0);
  frame.setAttribute("y", top);
  frame.setAttribute("width", X1 - X0);
  frame.setAttribute("height", 971);
  frame.setAttribute("fill", "none");
  frame.setAttribute("stroke", "#000");
  frame.setAttribute("stroke-width", "2.8");
  
  
  group.appendChild(frame);

  yTicks.forEach(function (km) {
    const y = yOf(km, top);
    const tick = make("line");
    tick.setAttribute("x1", X0 - 12);
    tick.setAttribute("x2", X0);
    tick.setAttribute("y1", y);
    tick.setAttribute("y2", y);
    tick.setAttribute("stroke", "#000");
    tick.setAttribute("stroke-width", "2.8");
    
    
    group.appendChild(tick);
    const label = make("text");
    label.setAttribute("x", X0 - 26);
    label.setAttribute("y", y + 12.6);
    label.setAttribute("text-anchor", "end");
    label.setAttribute("font-size", "34.7");
    
    
    label.textContent = String(km);
    group.appendChild(label);
  });

  xTickDays.forEach(function (day, i) {
    const x = xOf(day);
    const tick = make("line");
    tick.setAttribute("x1", x);
    tick.setAttribute("x2", x);
    tick.setAttribute("y1", bottom);
    tick.setAttribute("y2", bottom + 12);
    tick.setAttribute("stroke", "#000");
    tick.setAttribute("stroke-width", "2.8");
    
    
    group.appendChild(tick);
    if (tickLabelsShown) {
      const label = make("text");
      label.setAttribute("transform", "translate(" + (x - 13) + " " + (bottom + 60) + ") rotate(-30)");
      label.setAttribute("text-anchor", "end");
      label.setAttribute("font-size", "38");
      
      
      label.textContent = xTickLabels[i];
      group.appendChild(label);
    }
  });

  // colour bar
  const barL = 1846, barR = 1889, mid = (barL + barR) / 2;
  const hi = levels[0], lo = levels[levels.length - 1];
  const cbY = function (v) { return cbTop + (hi - v) * (cbBottom - cbTop) / (hi - lo); };
  const bar = make("g");
  
  
  group.appendChild(bar);

  const topTip = make("polygon");
  topTip.setAttribute("points", barL + "," + cbTop + " " + barR + "," + cbTop + " " + mid + "," + top);
  topTip.setAttribute("fill", colors[0]);
  
  
  bar.appendChild(topTip);

  const botTip = make("polygon");
  botTip.setAttribute("points", barL + "," + cbBottom + " " + barR + "," + cbBottom + " " + mid + "," + bottom);
  botTip.setAttribute("fill", colors[colors.length - 1]);
  
  
  bar.appendChild(botTip);

  for (let i = 0; i < levels.length - 1; i++) {
    const seg = make("rect");
    seg.setAttribute("x", barL);
    seg.setAttribute("width", barR - barL);
    seg.setAttribute("y", cbY(levels[i]));
    seg.setAttribute("height", cbY(levels[i + 1]) - cbY(levels[i]) + 0.5);
    seg.setAttribute("fill", colors[i + 1]);
    
    
    bar.appendChild(seg);
  }

  const outline = make("polygon");
  outline.setAttribute("points", [barL + "," + cbTop, mid + "," + top, barR + "," + cbTop, barR + "," + cbBottom, mid + "," + bottom, barL + "," + cbBottom].join(" "));
  outline.setAttribute("fill", "none");
  outline.setAttribute("stroke", "#000");
  outline.setAttribute("stroke-width", "2.8");
  
  
  bar.appendChild(outline);

  cbTicks.forEach(function (v) {
    const y = cbY(v);
    const tick = make("line");
    tick.setAttribute("x1", barR);
    tick.setAttribute("x2", barR + 12);
    tick.setAttribute("y1", y);
    tick.setAttribute("y2", y);
    tick.setAttribute("stroke", "#000");
    tick.setAttribute("stroke-width", "2.8");
    
    
    bar.appendChild(tick);
    const label = make("text");
    label.setAttribute("x", barR + 26);
    label.setAttribute("y", y + 12.6);
    label.setAttribute("font-size", "34.7");
    
    
    label.textContent = fmt(v);
    bar.appendChild(label);
  });
}

drawPanel("a", 199, windColors[2], a_edges, a_regions, windLevels, windColors, 244, 1125, windTicks, false);
drawPanel("b", 1273, windColors[6], b_edges, b_regions, windLevels, windColors, 1318, 2199, windTicks, false);
drawPanel("c", 2347, diffColors[5], [], c_regions, diffLevels, diffColors, 2391.5, 3274.5, diffTicks, true);
</script>
</body>
</html>
